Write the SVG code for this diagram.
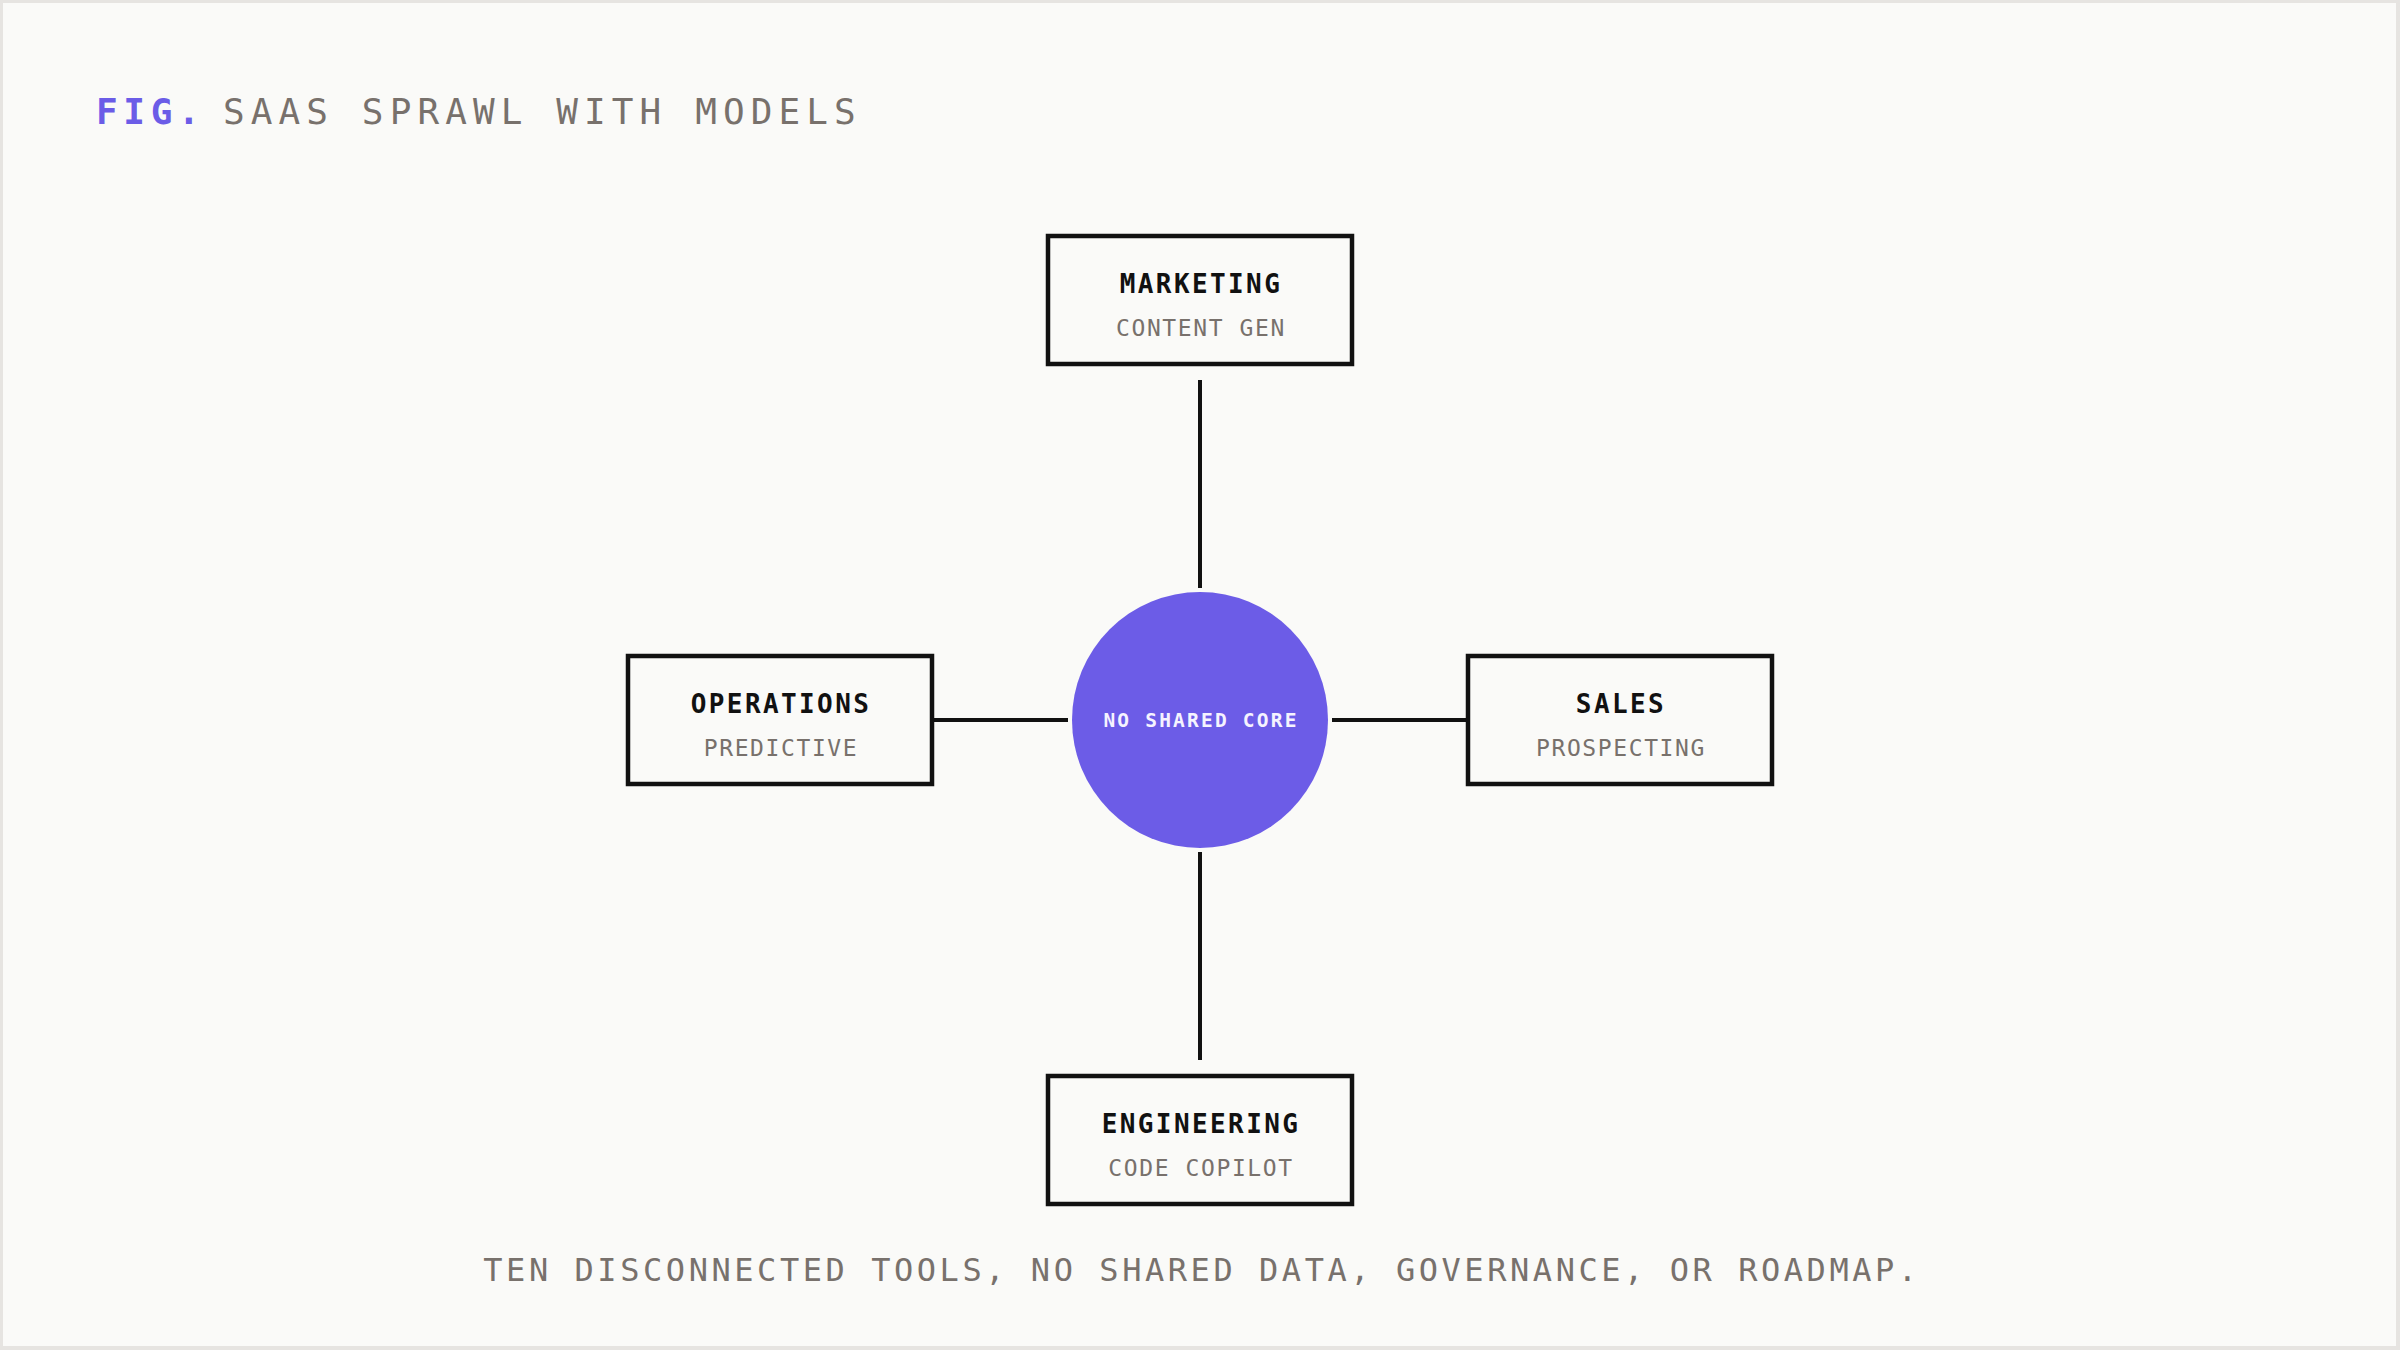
<svg xmlns="http://www.w3.org/2000/svg" width="2400" height="1350" viewBox="0 0 2400 1350">
  <style>
    .mono { font-family: "DejaVu Sans Mono", "Liberation Mono", monospace; }
    .box { fill: #fafaf8; stroke: #111111; stroke-width: 4.5; }
    .title { font-size: 26px; font-weight: bold; fill: #111111; letter-spacing: 2.4px; text-anchor: middle; }
    .sub { font-size: 23px; fill: #78716c; letter-spacing: 1.6px; text-anchor: middle; }
    .conn { stroke: #111111; stroke-width: 4; fill: none; }
  </style>
  <rect x="0" y="0" width="2400" height="1350" fill="#e6e4e1"/>
  <rect x="3" y="3" width="2393" height="1343" fill="#fafaf8"/>

  <g id="heading">
    <text class="mono" x="96" y="124" font-size="36" letter-spacing="5.7" fill="#6b5ce7" font-weight="bold">FIG.</text>
    <text class="mono" x="223" y="124" font-size="36" letter-spacing="6.1" fill="#78716c">SAAS SPRAWL WITH MODELS</text>
  </g>

  <g id="connectors">
    <line class="conn" x1="1200" y1="380" x2="1200" y2="588"/>
    <line class="conn" x1="1200" y1="852" x2="1200" y2="1060"/>
    <line class="conn" x1="932" y1="720" x2="1068" y2="720"/>
    <line class="conn" x1="1332" y1="720" x2="1468" y2="720"/>
  </g>

  <g id="core">
    <circle cx="1200" cy="720" r="128" fill="#6c5ce7"/>
    <text class="mono" x="1201" y="727" font-size="19.5" font-weight="bold" fill="#f5f3ff" letter-spacing="2.2" text-anchor="middle">NO SHARED CORE</text>
  </g>

  <g id="marketing">
    <rect class="box" x="1048" y="236" width="304" height="128"/>
    <text class="mono title" x="1201" y="293">MARKETING</text>
    <text class="mono sub" x="1201" y="336">CONTENT GEN</text>
  </g>

  <g id="operations">
    <rect class="box" x="628" y="656" width="304" height="128"/>
    <text class="mono title" x="781" y="713">OPERATIONS</text>
    <text class="mono sub" x="781" y="756">PREDICTIVE</text>
  </g>

  <g id="sales">
    <rect class="box" x="1468" y="656" width="304" height="128"/>
    <text class="mono title" x="1621" y="713">SALES</text>
    <text class="mono sub" x="1621" y="756">PROSPECTING</text>
  </g>

  <g id="engineering">
    <rect class="box" x="1048" y="1076" width="304" height="128"/>
    <text class="mono title" x="1201" y="1133">ENGINEERING</text>
    <text class="mono sub" x="1201" y="1176">CODE COPILOT</text>
  </g>

  <text class="mono" x="1202" y="1281" font-size="32" letter-spacing="3.55" fill="#78716c" text-anchor="middle">TEN DISCONNECTED TOOLS, NO SHARED DATA, GOVERNANCE, OR ROADMAP.</text>
</svg>
